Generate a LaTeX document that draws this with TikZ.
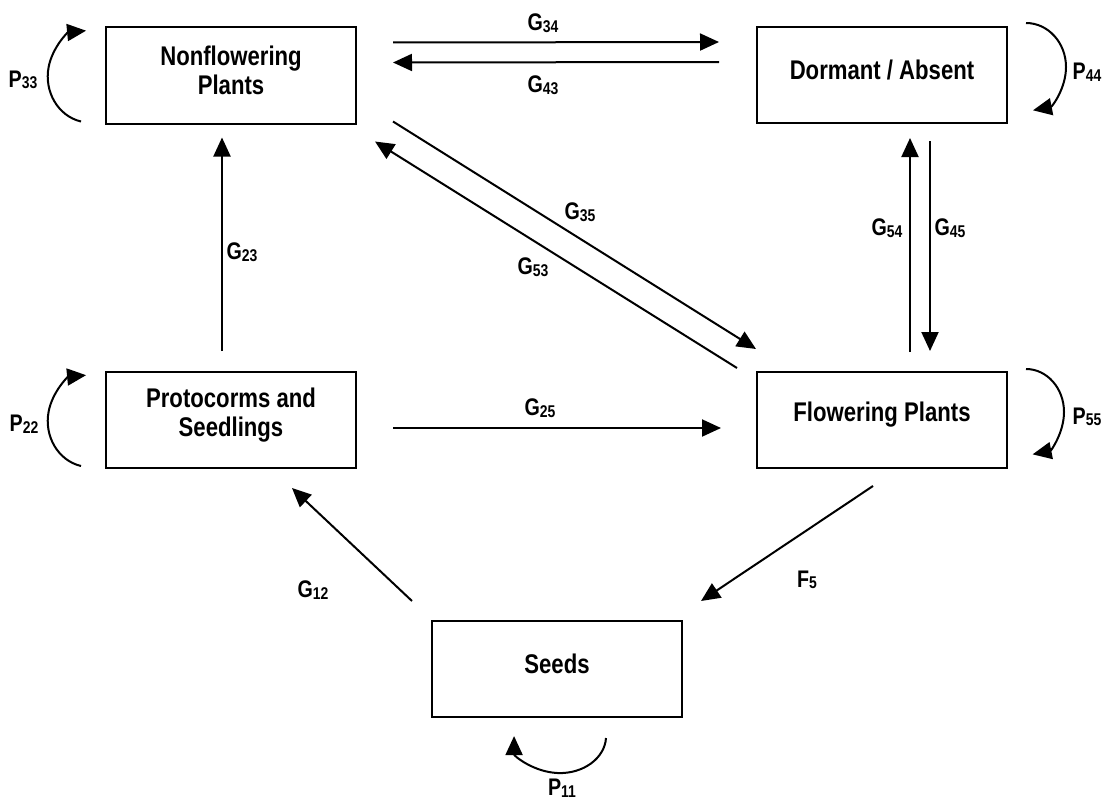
\documentclass[tikz,border=0pt]{standalone}
\usepackage{fontspec}
\setmainfont{Liberation Sans}[FakeStretch=0.82]
\usetikzlibrary{arrows.meta,calc}
\newcommand\lbl[2]{{\fontsize{24}{24}\selectfont\bfseries #1}{\fontsize{17}{17}\selectfont\bfseries\raisebox{-1.5pt}{#2}}}
\begin{document}
\begin{tikzpicture}[x=1pt,y=1pt,
  stage/.style={draw,line width=2pt,minimum width=250pt,minimum height=96pt,inner sep=0pt,
    label={[align=center,yshift=5pt,font=\fontsize{27}{29}\selectfont\bfseries]center:#1}},
  conn/.style={line width=2pt,-{Triangle[length=19pt,width=17pt]}},
  lab/.style={inner sep=0pt}]
\useasboundingbox (0,0) rectangle (1105,-800);
\node[stage={Nonflowering\\Plants}] (n3) at (231,-75.5) {};
\node[stage={Dormant / Absent}] (n4) at (882,-75) {};
\node[stage={Protocorms and\\Seedlings}] (n2) at (231,-420) {};
\node[stage={Flowering Plants}] (n5) at (882,-420) {};
\node[stage={Seeds}] (n1) at (557,-669) {};
% horizontal pair
\draw[conn] ($(n3.north east)+(36,-16)$) -- ($(n4.north west)+(-37,-16)$);
\draw[conn] ($(n4.north west)+(-37,-36)$) -- ($(n3.north east)+(36,-36)$);
% verticals
\draw[conn] ($(n2.north)+(-9,20)$) -- ($(n3.south)+(-9,-13)$);
\draw[conn] ($(n5.north)+(28,19)$) -- ($(n4.south)+(28,-14)$);
\draw[conn] ($(n4.south)+(48,-17)$) -- ($(n5.north)+(48,20)$);
% G25
\draw[conn] ($(n2.east)+(36,-8)$) -- ($(n5.west)+(-35,-8)$);
% diagonals
\draw[conn] ($(n3.south east)+(36,3)$) -- ($(n5.north west)+(0,22)$);
\draw[conn] ($(n5.north west)+(-19,3)$) -- ($(n3.south east)+(18,-17)$);
% G12, F5
\draw[conn] ($(n1.north west)+(-19,19)$) -- ($(n2.south)+(61,-19)$);
\draw[conn] ($(n5.south)+(-9,-17)$) -- ($(n1.north east)+(18,19)$);
% self loops
\draw[conn] ($(n3.south west)+(-24,3)$) arc[start angle=258,end angle=95,x radius=42,y radius=46];
\draw[conn] ($(n2.south west)+(-24,3)$) arc[start angle=258,end angle=95,x radius=42,y radius=46];
\draw[conn] ($(n4.north east)+(18,3)$) arc[start angle=90,end angle=-80,x radius=40,y radius=44];
\draw[conn] ($(n5.north east)+(18,2)$) arc[start angle=90,end angle=-80,x radius=38,y radius=43];
\draw[conn] ($(n1.south)+(49,-20)$) arc[start angle=-3,end angle=-180,x radius=46,y radius=37];
% labels
\node[lab] (l34) at (543,-23) {\lbl{G}{34}};
\node[lab] (l43) at (543,-85) {\lbl{G}{43}};
\node[lab] (l35) at (580,-212) {\lbl{G}{35}};
\node[lab] (l53) at (533,-267) {\lbl{G}{53}};
\node[lab] (l23) at (242,-252) {\lbl{G}{23}};
\node[lab] (l54) at (887,-228) {\lbl{G}{54}};
\node[lab] (l45) at (950,-228) {\lbl{G}{45}};
\node[lab] (l25) at (540,-408) {\lbl{G}{25}};
\node[lab] (l12) at (313,-590) {\lbl{G}{12}};
\node[lab] (lf5) at (807,-580) {\lbl{F}{5}};
\node[lab] (p33) at (23,-80) {\lbl{P}{33}};
\node[lab] (p22) at (24,-424) {\lbl{P}{22}};
\node[lab] (p44) at (1087,-72) {\lbl{P}{44}};
\node[lab] (p55) at (1087,-417) {\lbl{P}{55}};
\node[lab] (p11) at (562,-788) {\lbl{P}{11}};
\end{tikzpicture}
\end{document}
